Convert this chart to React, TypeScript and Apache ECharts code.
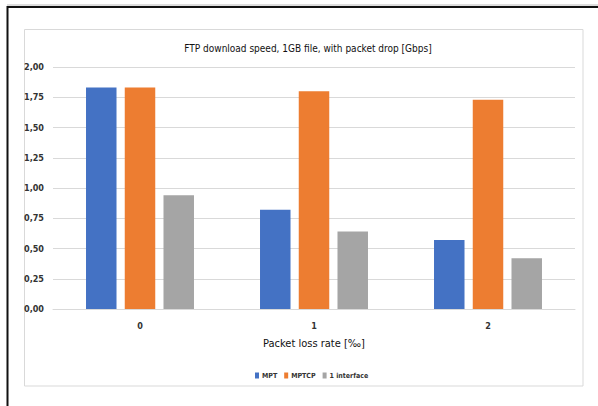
import React, { useEffect, useRef } from "react";
import * as echarts from "echarts";

const categories = ["0", "1", "2"];
const mptValues = [1.83, 0.82, 0.57];
const mptcpValues = [1.83, 1.8, 1.73];
const oneIfValues = [0.94, 0.64, 0.42];
const seriesNames = ["MPT", "MPTCP", "1 interface"];
const yTicks = [0, 0.25, 0.5, 0.75, 1, 1.25, 1.5, 1.75, 2];

const FONT = "'DejaVu Sans Condensed', 'Liberation Sans Narrow', 'Liberation Sans', sans-serif";

export default function App() {
  const ref = useRef<HTMLDivElement>(null);
  useEffect(() => {
    if (!ref.current) return;
    const chart = echarts.init(ref.current, undefined, { renderer: "svg" });
    const barStyle = (color: string) => ({ color });
    chart.setOption({
      animation: false,
      backgroundColor: "#fff",
      title: {
        text: "FTP download speed, 1GB file, with packet drop [Gbps]",
        left: 303,
        textAlign: "center",
        top: 38,
        textStyle: { fontFamily: FONT, fontSize: 10, fontWeight: "normal", color: "#111" },
      },
      graphic: [
        { type: "rect", shape: { x: 24.5, y: 29.5, width: 558.5, height: 356.5 }, style: { fill: "none", stroke: "#d9d9d9", lineWidth: 1 }, silent: true },
        { type: "line", shape: { x1: 7, y1: 7, x2: 598, y2: 7 }, style: { stroke: "#111", lineWidth: 2 }, silent: true },
        { type: "line", shape: { x1: 7, y1: 5, x2: 598, y2: 5 }, style: { stroke: "#bbb", lineWidth: 1 }, silent: true },
        { type: "line", shape: { x1: 7.5, y1: 6, x2: 7.5, y2: 406 }, style: { stroke: "#111", lineWidth: 2 }, silent: true },
      ],
      legend: {
        data: seriesNames,
        left: 250,
        top: 367,
        itemWidth: 4,
        itemHeight: 6,
        itemGap: 7,
        icon: "rect",
        textStyle: { fontFamily: FONT, fontSize: 7, fontWeight: "bold", color: "#333", padding: [0, 0, 0, -2] },
      },
      grid: { left: 53, right: 23, top: 67, bottom: 97, containLabel: false },
      xAxis: {
        type: "category",
        data: categories,
        name: "Packet loss rate [‰]",
        nameLocation: "middle",
        nameGap: 29,
        nameTextStyle: { fontFamily: FONT, fontSize: 11, fontWeight: "normal", color: "#111" },
        axisLine: { lineStyle: { color: "#d9d9d9" } },
        axisTick: { show: false },
        axisLabel: { fontFamily: FONT, fontSize: 9, fontWeight: "bold", color: "#333", margin: 12 },
      },
      yAxis: {
        type: "value",
        min: 0,
        max: 2,
        interval: 0.25,
        axisLine: { show: false },
        axisTick: { show: false },
        splitLine: { lineStyle: { color: "#d9d9d9" } },
        axisLabel: {
          fontFamily: FONT,
          fontSize: 9,
          fontWeight: "bold",
          color: "#333",
          margin: 9,
          formatter: (v: number) => (yTicks.includes(v) ? v.toFixed(2).replace(".", ",") : ""),
        },
      },
      series: [
        { name: seriesNames[0], type: "bar", data: mptValues, itemStyle: barStyle("#4472C4"), barWidth: 30.5, barGap: "27%" },
        { name: seriesNames[1], type: "bar", data: mptcpValues, itemStyle: barStyle("#ED7D31"), barWidth: 30.5, barGap: "27%" },
        { name: seriesNames[2], type: "bar", data: oneIfValues, itemStyle: barStyle("#A5A5A5"), barWidth: 30.5, barGap: "27%" },
      ],
    });
    return () => chart.dispose();
  }, []);
  return (
    <div
      ref={ref}
      style={{ position: "fixed", left: 0, top: 0, width: 598, height: 406 }}
    />
  );
}
